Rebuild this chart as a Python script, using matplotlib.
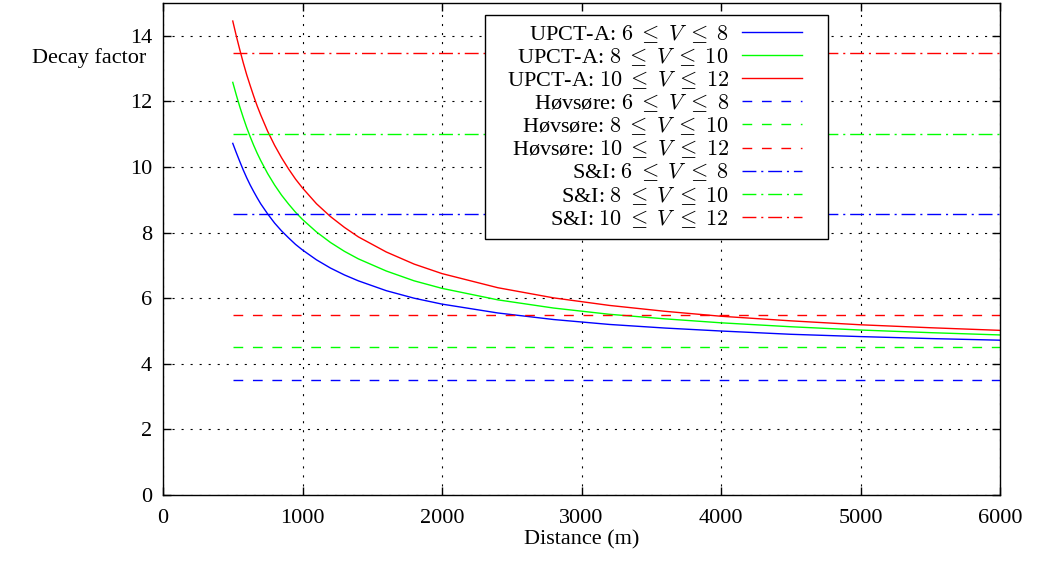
import numpy as np
import matplotlib
matplotlib.use("Agg")
import matplotlib.pyplot as plt
from matplotlib.offsetbox import DrawingArea

plt.rcParams['font.family'] = ['Liberation Serif', 'DejaVu Serif']
plt.rcParams['mathtext.fontset'] = 'cm'
plt.rcParams['lines.scale_dashes'] = False

# Distance (m) and decay factors
distance = [500, 525, 550, 575, 600, 625, 650, 675, 700, 750, 800, 850, 900, 950, 1000,
            1100, 1200, 1300, 1400, 1600, 1800, 2000, 2400, 2800, 3200, 3600, 4000,
            4500, 5000, 5500, 6000]
upct_6_8 = [10.72, 10.44, 10.17, 9.91, 9.67, 9.45, 9.25, 9.06, 8.88, 8.57, 8.29, 8.05,
            7.84, 7.64, 7.47, 7.17, 6.92, 6.71, 6.53, 6.23, 6.00, 5.82, 5.55, 5.35,
            5.20, 5.09, 5.00, 4.90, 4.83, 4.77, 4.72]
upct_8_10 = [12.58, 12.20, 11.84, 11.51, 11.20, 10.92, 10.66, 10.42, 10.20, 9.80, 9.45,
             9.14, 8.87, 8.62, 8.40, 8.02, 7.70, 7.43, 7.20, 6.83, 6.53, 6.30, 5.95,
             5.70, 5.51, 5.37, 5.25, 5.13, 5.03, 4.95, 4.88]
upct_10_12 = [14.45, 14.00, 13.58, 13.18, 12.81, 12.48, 12.16, 11.86, 11.59, 11.09,
              10.66, 10.28, 9.94, 9.63, 9.36, 8.88, 8.49, 8.16, 7.87, 7.41, 7.04, 6.75,
              6.32, 6.01, 5.78, 5.60, 5.45, 5.31, 5.19, 5.10, 5.02]

# constant models (Høvsøre and S&I)
const_x = [500, 6000]
hovsore = [3.5, 4.5, 5.5]
si = [8.58, 11.02, 13.48]

bins = ["6 \\;\\leq\\; V \\;\\leq\\; 8", "8 \\;\\leq\\; V \\;\\leq\\; 10",
        "10 \\;\\leq\\; V \\;\\leq\\; 12"]
colors = ['#0000ff', '#00ff00', '#ff0000']

fig = plt.figure(figsize=(10.39, 5.64), dpi=100)
ax = fig.add_axes([0.1569, 0.1223, 0.9625 - 0.1569, 0.9947 - 0.1223])

for y, c, b in zip([upct_6_8, upct_8_10, upct_10_12], colors, bins):
    ax.plot(distance, y, color=c, lw=1.0, label="UPCT-A: $" + b + "$")
for v, c, b in zip(hovsore, colors, bins):
    ax.plot(const_x, [v, v], color=c, lw=1.0, dashes=(7, 7), label="Høvsøre: $" + b + "$")
for v, c, b in zip(si, colors, bins):
    ax.plot(const_x, [v, v], color=c, lw=1.0, dashes=(10, 3.5, 1.5, 3.5), label="S&I: $" + b + "$")

ax.set_xlim(0, 6000)
ax.set_ylim(0, 15)
ax.set_xticks(range(0, 6001, 1000))
ax.set_yticks(range(0, 15, 2))
ax.grid(True, color='black', lw=0.8, linestyle=(0, (1.5, 5)))
ax.tick_params(direction='in', length=6, width=1, top=True, right=True, labelsize=16)
ax.tick_params(axis='y', pad=8)
ax.tick_params(axis='x', pad=10)
for s in ax.spines.values():
    s.set_linewidth(1.0)

ax.set_xlabel("Distance (m)", fontsize=16, labelpad=2)
fig.text(146 / 1039, 1 - 58 / 564, "Decay factor", fontsize=16, ha='right', va='center')

bpad = 0.35
lfs = 16
leg = ax.legend(loc='upper right', bbox_to_anchor=(828 / 1039, 1 - 15 / 564),
                bbox_transform=fig.transFigure, borderaxespad=0, fontsize=lfs,
                markerfirst=False, fancybox=False, framealpha=1, edgecolor='black',
                handlelength=2.7, handletextpad=0.6, labelspacing=0.05,
                borderpad=bpad)
leg.get_frame().set_linewidth(1.0)
# gnuplot-like key: right aligned labels, wider side padding
col = leg._legend_box._children[1]._children[0]
col.align = 'right'
for row in col._children:
    row._children[-1].width += 13
box_w = (828 - 485) * 72 / 100 - 2 * bpad * lfs
col._children.append(DrawingArea(box_w, 0))

fig.savefig("out.png", dpi=100)
